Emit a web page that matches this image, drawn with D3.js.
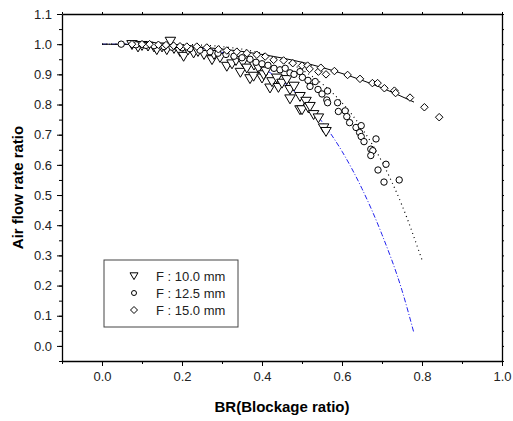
<!DOCTYPE html>
<html>
<head>
<meta charset="utf-8">
<script src="https://cdn.jsdelivr.net/npm/d3@7"></script>
<style>
  body { margin: 0; background: #fff; }
  svg { display: block; font-family: "Liberation Sans", Arial, sans-serif; }
  .tick text { font-size: 13px; fill: #222; }
  .axis path, .axis line { stroke: #000; }
</style>
</head>
<body>
<div id="chart"></div>
<script>
// measured series [BR, air flow rate ratio]
const f10 = [[0.075,0.998],[0.09,0.99],[0.1,0.995],[0.115,0.993],[0.13,0.99],[0.137,0.981],[0.15,0.99],[0.162,0.981],[0.171,1.009],[0.18,0.985],[0.195,0.975],[0.204,0.959],[0.215,0.98],[0.229,0.97],[0.24,0.975],[0.255,0.965],[0.275,0.948],[0.28,0.965],[0.295,0.955],[0.312,0.926],[0.325,0.934],[0.335,0.945],[0.346,0.906],[0.352,0.94],[0.362,0.92],[0.37,0.885],[0.379,0.893],[0.38,0.93],[0.391,0.92],[0.40,0.887],[0.404,0.898],[0.41,0.91],[0.42,0.854],[0.425,0.875],[0.437,0.887],[0.441,0.856],[0.45,0.87],[0.462,0.882],[0.47,0.849],[0.47,0.818],[0.48,0.86],[0.495,0.826],[0.495,0.782],[0.50,0.782],[0.51,0.81],[0.516,0.788],[0.52,0.793],[0.529,0.766],[0.541,0.755],[0.554,0.722],[0.56,0.71]];

const f125 = [[0.048,1.0],[0.085,0.998],[0.11,0.996],[0.13,0.995],[0.155,0.992],[0.175,0.99],[0.2,0.988],[0.22,0.985],[0.245,0.98],[0.27,0.975],[0.29,0.97],[0.31,0.966],[0.33,0.96],[0.35,0.955],[0.37,0.95],[0.385,0.94],[0.4,0.935],[0.415,0.93],[0.43,0.92],[0.445,0.915],[0.458,0.92],[0.47,0.905],[0.48,0.9],[0.495,0.909],[0.501,0.89],[0.515,0.88],[0.52,0.86],[0.533,0.876],[0.54,0.85],[0.55,0.835],[0.564,0.845],[0.562,0.815],[0.564,0.806],[0.589,0.806],[0.591,0.777],[0.608,0.779],[0.612,0.76],[0.619,0.74],[0.635,0.724],[0.648,0.73],[0.644,0.707],[0.648,0.694],[0.655,0.677],[0.685,0.686],[0.672,0.652],[0.677,0.647],[0.672,0.631],[0.71,0.602],[0.69,0.583],[0.743,0.55],[0.705,0.543]];

const f15 = [[0.075,1.0],[0.1,1.0],[0.119,1.0],[0.141,0.998],[0.16,0.997],[0.179,0.995],[0.195,0.993],[0.212,0.992],[0.237,0.992],[0.262,0.989],[0.291,0.983],[0.312,0.979],[0.337,0.975],[0.362,0.97],[0.387,0.965],[0.408,0.959],[0.429,0.948],[0.454,0.946],[0.477,0.937],[0.50,0.929],[0.514,0.929],[0.519,0.918],[0.541,0.909],[0.547,0.922],[0.56,0.90],[0.581,0.911],[0.614,0.898],[0.645,0.885],[0.676,0.871],[0.689,0.871],[0.706,0.854],[0.731,0.846],[0.734,0.838],[0.77,0.823],[0.806,0.791],[0.843,0.758]];

// fitted curves
const fit10 = [[0,1.0],[0.1,0.9995],[0.2,0.994],[0.3,0.973],[0.4,0.922],[0.45,0.878],[0.5,0.82],[0.55,0.743],[0.6,0.645],[0.65,0.521],[0.7,0.369],[0.75,0.184],[0.78,0.042]];
const fit125 = [[0,1.0],[0.1,1.0],[0.2,0.999],[0.3,0.992],[0.4,0.969],[0.5,0.915],[0.55,0.869],[0.6,0.806],[0.65,0.721],[0.7,0.61],[0.75,0.466],[0.8,0.285]];
const fit15 = [[0,1.0],[0.1,0.999],[0.2,0.994],[0.3,0.984],[0.4,0.966],[0.5,0.94],[0.6,0.903],[0.7,0.855],[0.78,0.808]];

const legendLabels = ['F : 10.0 mm', 'F : 12.5 mm', 'F : 15.0 mm'];

const W = 513, H = 421;
const margin = { top: 14, right: 11, bottom: 60, left: 62 };
const width = W - margin.left - margin.right;
const height = H - margin.top - margin.bottom;

const svg = d3.select('#chart').append('svg')
  .attr('width', W).attr('height', H);

const g = svg.append('g')
  .attr('transform', `translate(${margin.left},${margin.top})`);

const x = d3.scaleLinear().domain([-0.1, 1.0]).range([0, width]);
const y = d3.scaleLinear().domain([-0.05, 1.1]).range([height, 0]);

const xMajor = d3.range(0, 1.0001, 0.2);
const xMinor = d3.range(-0.1, 1.0001, 0.1);
const yMajor = d3.range(0, 1.1001, 0.1);
const yMinor = d3.range(-0.05, 1.1001, 0.05);

// minor ticks
g.append('g').attr('class', 'axis')
  .attr('transform', `translate(0,${height})`)
  .call(d3.axisBottom(x).tickValues(xMinor).tickSize(3).tickFormat(''))
  .call(a => a.select('.domain').remove());
g.append('g').attr('class', 'axis')
  .call(d3.axisLeft(y).tickValues(yMinor).tickSize(3).tickFormat(''))
  .call(a => a.select('.domain').remove());

// major axes
g.append('g').attr('class', 'axis')
  .attr('transform', `translate(0,${height})`)
  .call(d3.axisBottom(x).tickValues(xMajor).tickSize(5).tickSizeOuter(0).tickPadding(6).tickFormat(d3.format('.1f')));
g.append('g').attr('class', 'axis')
  .call(d3.axisLeft(y).tickValues(yMajor).tickSize(5).tickSizeOuter(0).tickPadding(5).tickFormat(d3.format('.1f')));

// top and right frame with small ticks
g.append('g').attr('class', 'axis')
  .call(d3.axisTop(x).tickValues(xMinor).tickSize(2).tickSizeOuter(0).tickFormat(''));
g.append('g').attr('class', 'axis')
  .attr('transform', `translate(${width},0)`)
  .call(d3.axisRight(y).tickValues(yMinor).tickSize(2).tickSizeOuter(0).tickFormat(''));

g.selectAll('.axis .domain').attr('stroke-width', 1.3);

// axis titles
svg.append('text')
  .attr('x', margin.left + width / 2).attr('y', 412)
  .attr('text-anchor', 'middle')
  .style('font-size', '15px').style('font-weight', 'bold')
  .text('BR(Blockage ratio)');
svg.append('text')
  .attr('transform', `translate(23,${margin.top + height / 2}) rotate(-90)`)
  .attr('text-anchor', 'middle')
  .style('font-size', '15px').style('font-weight', 'bold')
  .text('Air flow rate ratio');

// symbols
const triPath = s => `M${-s / 2},${-s * 0.4}L${s / 2},${-s * 0.4}L0,${s * 0.45}Z`;
const diaPath = s => `M0,${-s / 2}L${s / 2},0L0,${s / 2}L${-s / 2},0Z`;

const line = d3.line().x(d => x(d[0])).y(d => y(d[1])).curve(d3.curveMonotoneX);

// fitted curves
g.append('path').datum(fit10).attr('d', line)
  .attr('fill', 'none').attr('stroke', '#2222ee').attr('stroke-width', 1)
  .attr('stroke-dasharray', '5,2,1,2');
g.append('path').datum(fit125).attr('d', line)
  .attr('fill', 'none').attr('stroke', '#000').attr('stroke-width', 1.2)
  .attr('stroke-dasharray', '1,3.5');
g.append('path').datum(fit15).attr('d', line)
  .attr('fill', 'none').attr('stroke', '#000').attr('stroke-width', 1);

// scatter
g.append('g').selectAll('path').data(f10).join('path')
  .attr('transform', d => `translate(${x(d[0])},${y(d[1])})`)
  .attr('d', triPath(10.5))
  .attr('fill', '#fff').attr('stroke', '#000').attr('stroke-width', 1);

g.append('g').selectAll('circle').data(f125).join('circle')
  .attr('cx', d => x(d[0])).attr('cy', d => y(d[1])).attr('r', 3.2)
  .attr('fill', '#fff').attr('stroke', '#000').attr('stroke-width', 1);

g.append('g').selectAll('path').data(f15).join('path')
  .attr('transform', d => `translate(${x(d[0])},${y(d[1])})`)
  .attr('d', diaPath(7.5))
  .attr('fill', '#fff').attr('stroke', '#000').attr('stroke-width', 1);

// legend
const lg = svg.append('g').attr('transform', 'translate(104,260)');
lg.append('rect').attr('width', 134).attr('height', 67)
  .attr('fill', '#fff').attr('stroke', '#444').attr('stroke-width', 1);
const rows = [16, 33, 50];
lg.append('path').attr('transform', `translate(30,${rows[0]})`).attr('d', triPath(8))
  .attr('fill', '#fff').attr('stroke', '#000');
lg.append('circle').attr('cx', 30).attr('cy', rows[1]).attr('r', 2.5)
  .attr('fill', '#fff').attr('stroke', '#000');
lg.append('path').attr('transform', `translate(30,${rows[2]})`).attr('d', diaPath(7))
  .attr('fill', '#fff').attr('stroke', '#000');
lg.selectAll('text.lab').data(legendLabels).join('text')
  .attr('class', 'lab')
  .attr('x', 52).attr('y', (d, i) => rows[i]).attr('dy', '0.35em')
  .style('font-size', '13px').style('fill', '#222')
  .text(d => d);
</script>
</body>
</html>
